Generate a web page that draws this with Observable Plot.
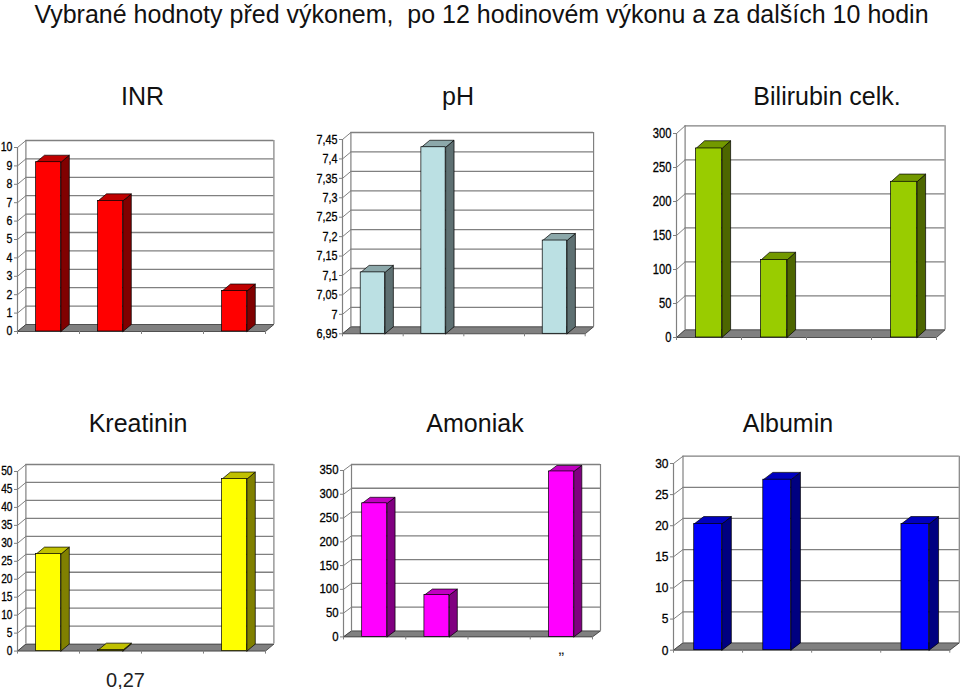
<!DOCTYPE html>
<html lang="cs">
<head>
<meta charset="utf-8">
<script src="https://cdn.jsdelivr.net/npm/d3@7"></script>
<script src="https://cdn.jsdelivr.net/npm/@observablehq/plot@0.6"></script>
<style>
  html, body { margin: 0; padding: 0; background: #fff; overflow: hidden; }
  #page { position: relative; width: 960px; height: 689px; font-family: "Liberation Sans", Arial, sans-serif; color: #111; }
  .label { position: absolute; white-space: pre; line-height: 1; transform: translate(-50%, -50%); }
</style>
</head>
<body>
<div id="page"></div>
<script>
// Data (null = no bar in that slot)
const mainTitle = "Vybrané hodnoty před výkonem,  po 12 hodinovém výkonu a za dalších 10 hodin";
const panelTitles = ["INR", "pH", "Bilirubin celk.", "Kreatinin", "Amoniak", "Albumin"];
const inrValues = [9.2, 7.1, null, 2.2];
const phValues = [7.108, 7.43, null, 7.19];
const bilirubinValues = [278, 114, null, 229];
const kreatininValues = [27, 0.27, null, 47.9];
const amoniakValues = [281, 88, null, 348];
const albuminValues = [20.3, 27.4, null, 20.3];
const inrTicks = [0, 1, 2, 3, 4, 5, 6, 7, 8, 9, 10];
const phTicks = [6.95, 7, 7.05, 7.1, 7.15, 7.2, 7.25, 7.3, 7.35, 7.4, 7.45];
const bilirubinTicks = [0, 50, 100, 150, 200, 250, 300];
const kreatininTicks = [0, 5, 10, 15, 20, 25, 30, 35, 40, 45, 50];
const amoniakTicks = [0, 50, 100, 150, 200, 250, 300, 350];
const albuminTicks = [0, 5, 10, 15, 20, 25, 30];
const slotEdges = [0, 1, 2, 3, 4];

// Presentation
const regular = '"Liberation Sans", sans-serif';
const faces = [
  {front: "#ff0000", top: "#c00000", side: "#800000"},
  {front: "#bbe0e3", top: "#8ca8aa", side: "#5e7072"},
  {front: "#99cc00", top: "#739900", side: "#4d6600"},
  {front: "#ffff00", top: "#c0c000", side: "#808000"},
  {front: "#ff00ff", top: "#c000c0", side: "#800080"},
  {front: "#0000ff", top: "#0000c0", side: "#000080"}
];
const frames = [
  {l: 16.7, r: 264.7, b: 331, t: 147, dx: 8.4, dy: 7, size: 12, squeeze: 0.88},
  {l: 342.3, r: 585, b: 333.3, t: 139, dx: 8.4, dy: 7, size: 13, squeeze: 0.83},
  {l: 675.7, r: 935.7, b: 336.7, t: 132.7, dx: 8.6, dy: 7.7, size: 14, squeeze: 0.8},
  {l: 16.7, r: 264.7, b: 650.3, t: 470.7, dx: 8.4, dy: 7, size: 12, squeeze: 0.85},
  {l: 342.7, r: 591.7, b: 636.7, t: 470.3, dx: 8, dy: 6, size: 12.5, squeeze: 0.91},
  {l: 673, r: 949.3, b: 650, t: 463.3, dx: 9.5, dy: 7.3, size: 13.5, squeeze: 0.89}
];
const titlePos = [[142.5, 96], [458, 96], [827, 96], [138, 423], [475, 423], [788, 423]];
const panels = [
  [inrValues, inrTicks, []],
  [phValues, phTicks, []],
  [bilirubinValues, bilirubinTicks, []],
  [kreatininValues, kreatininTicks, [{slot: 1.5, text: "0,27", size: 20, dx: 15, dy: 29}]],
  [amoniakValues, amoniakTicks, [{slot: 3.5, text: "„", size: 17, dx: 0, dy: 12}]],
  [albuminValues, albuminTicks, []]
];

const comma = v => String(v).replace(".", ",");
const page = document.getElementById("page");

function addLabel(text, x, y, size) {
  const d = document.createElement("div");
  d.className = "label";
  d.textContent = text;
  d.style.left = x + "px";
  d.style.top = y + "px";
  d.style.fontSize = size + "px";
  page.appendChild(d);
}

function panel([values, ticks, notes], f, colors) {
  const lo = ticks[0], hi = ticks[ticks.length - 1];
  const ox = 36, ot = 16, ob = 46, or = 12;
  const ux = f.dx * 4 / (f.r - f.l);           // depth in slot units
  const uy = f.dy * (hi - lo) / (f.b - f.t);   // depth in value units
  const bars = values.flatMap((v, i) => v == null ? [] : [{x1: i + 0.3, x2: i + 0.7, v}]);
  const poly = (id, pts) => pts.concat([pts[0]]).map(([x, y]) => ({id, x, y}));
  const tops = bars.flatMap((b, i) => poly("t" + i, [[b.x1, b.v], [b.x2, b.v], [b.x2 + ux, b.v + uy], [b.x1 + ux, b.v + uy]]));
  const sides = bars.flatMap((b, i) => poly("s" + i, [[b.x2, lo], [b.x2, b.v], [b.x2 + ux, b.v + uy], [b.x2 + ux, lo + uy]]));
  const floor = poly("floor", [[0, lo], [4, lo], [4 + ux, lo + uy], [ux, lo + uy]]);
  const grey = "#808080";
  const edge = {stroke: "#000", strokeWidth: 0.7};
  const chart = Plot.plot({
    width: f.r - f.l + ox + or,
    height: f.b - f.t + ot + ob,
    marginLeft: ox, marginRight: or, marginTop: ot, marginBottom: ob,
    x: {domain: [0, 4], axis: null},
    y: {domain: [lo, hi], axis: null},
    style: {position: "absolute", left: (f.l - ox) + "px", top: (f.t - ot) + "px", overflow: "visible", background: "transparent", color: "#000"},
    marks: [
      Plot.ruleY(ticks.slice(1), {y: v => v + uy, x1: () => ux, x2: () => 4 + ux, stroke: grey, strokeWidth: 1.3}),
      Plot.link(ticks, {x1: () => 0, y1: v => v, x2: () => ux, y2: v => v + uy, stroke: grey, strokeWidth: 1}),
      Plot.ruleX([ux, 4 + ux], {y1: () => lo + uy, y2: () => hi + uy, stroke: grey, strokeWidth: 1.2}),
      Plot.ruleX([0], {y1: () => lo, y2: () => hi, stroke: grey, strokeWidth: 1.2}),
      Plot.line(floor, {x: "x", y: "y", z: "id", fill: grey, stroke: "#333", strokeWidth: 0.8}),
      Plot.axisX({ticks: slotEdges, tickFormat: () => "", tickSize: 3, stroke: grey, anchor: "bottom"}),
      Plot.axisY({ticks, tickFormat: comma, tickSize: 3, tickPadding: 2, stroke: grey, fill: "#000",
        fontSize: f.size, fontFamily: regular, anchor: "left"}),
      Plot.line(sides, {x: "x", y: "y", z: "id", fill: colors.side, ...edge}),
      Plot.line(tops, {x: "x", y: "y", z: "id", fill: colors.top, ...edge}),
      Plot.rect(bars, {x1: "x1", x2: "x2", y1: () => lo, y2: "v", fill: colors.front, ...edge}),
      ...notes.map(n => Plot.text([n], {x: "slot", y: () => lo, text: "text", dx: n.dx, dy: n.dy,
        fontSize: n.size, fontFamily: regular, fill: "#222"}))
    ]
  });
  page.appendChild(chart);
  // The source's tick labels are horizontally condensed and heavy
  chart.querySelectorAll('g[aria-label="y-axis tick label"] text').forEach(t => {
    const w = t.getComputedTextLength();
    t.setAttribute("textLength", (w * f.squeeze).toFixed(2));
    t.setAttribute("lengthAdjust", "spacingAndGlyphs");
    t.style.stroke = "#000";
    t.style.strokeWidth = "0.3px";
  });
}

addLabel(mainTitle, 481.5, 14, 25);
panelTitles.forEach((t, i) => addLabel(t, titlePos[i][0], titlePos[i][1], 25));
panels.forEach((p, i) => panel(p, frames[i], faces[i]));
</script>
</body>
</html>
